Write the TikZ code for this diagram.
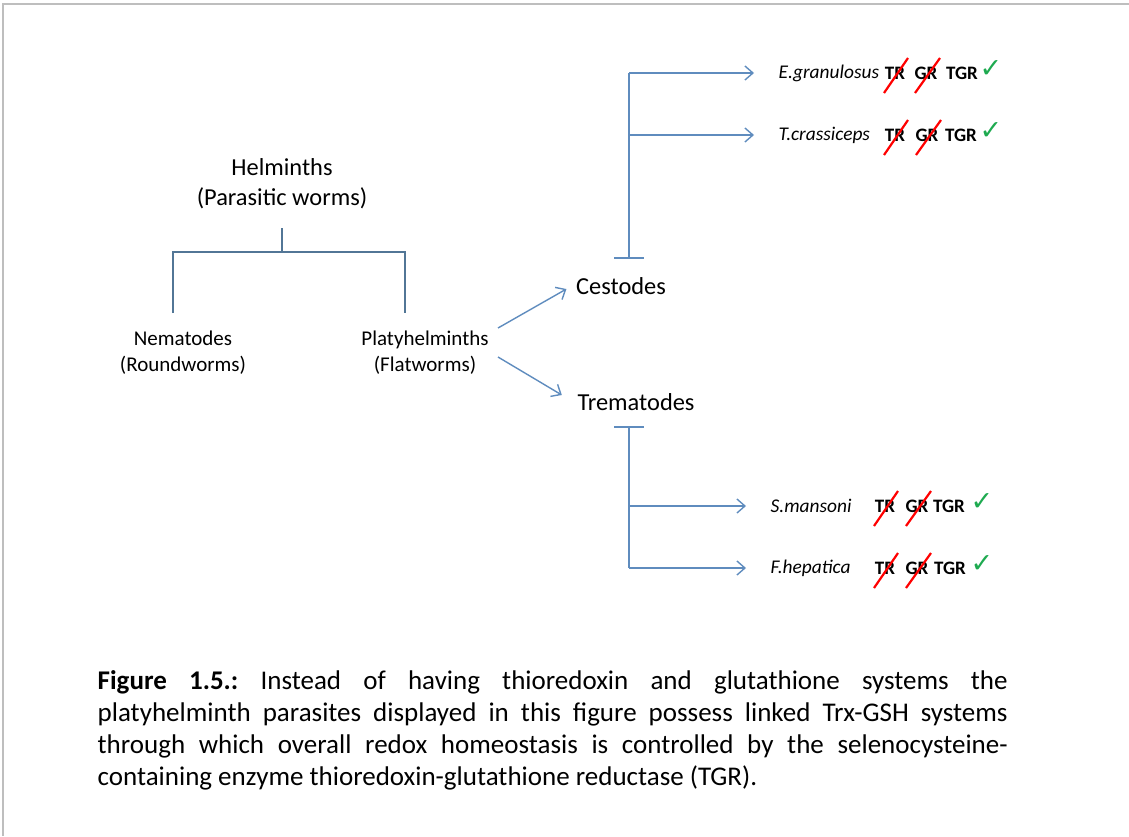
\documentclass[tikz,border=0pt]{standalone}
\usepackage{fontspec}
\setmainfont{Carlito}
\newfontfamily\symfont{DejaVu Sans}
\usetikzlibrary{calc,arrows.meta}
\definecolor{treeline}{RGB}{82,118,150}
\definecolor{arrowblue}{RGB}{95,140,190}
\definecolor{tickgreen}{RGB}{30,170,80}
\definecolor{framegray}{RGB}{190,190,190}
\tikzset{treelbl/.style={align=center,font=\fontsize{10.5}{13}\selectfont,inner sep=1pt},
  grouplbl/.style={font=\fontsize{12.2}{14}\selectfont,inner sep=1pt},
  specieslbl/.style={anchor=west,font=\fontsize{9.7}{12}\selectfont\itshape,inner sep=0pt},
  enzlbl/.style={font=\fontsize{9.5}{12}\selectfont\bfseries,inner sep=0pt},
  crossout/.style={red,line width=1.1pt},
  tick/.style={text=tickgreen,font=\fontsize{13.5}{14}\symfont,inner sep=0pt}}

\begin{document}
\frenchspacing
\begin{tikzpicture}[x=0.5pt,y=-0.5pt,line width=0.7pt,>={Straight Barb[length=4pt,width=7pt]}]
  \useasboundingbox (0,0) rectangle (1129,836);
  \draw[framegray,line width=1pt] (3,836) -- (3,4) -- (1129,4);

  % left part of the tree
  \node [grouplbl,align=center] (helm) at (282,184) {Helminths\\[1pt](Parasitic worms)};
  \node [treelbl] (nema) at (183,353) {Nematodes\hspace{5pt}\\(Roundworms)};
  \node [treelbl] (platy) at (425,353) {Platyhelminths\\(Flatworms)\hspace{9pt}};
  \coordinate (top) at (282,228);
  \coordinate (mid) at (282,252);
  \draw [treeline] (top) -- (mid);
  \draw [treeline] (173,313) |- (mid) -| (405,313);

  \node [grouplbl] (cest) at (621,286) {Cestodes};
  \node [grouplbl] (trem) at (636,402) {Trematodes};
  \coordinate (p1) at (498,328);
  \coordinate (p2) at (498,357);
  \draw [->,arrowblue] (p1) -- ([shift={(-7,3)}]cest.west);
  \draw [->,arrowblue] (p2) -- ([shift={(-13,-7)}]trem.west);

  % cestodes
  \coordinate (cb) at (629,258);
  \coordinate (ct) at (629,73);
  \draw [arrowblue] (614,258) -- (644,258);
  \draw [arrowblue] (cb) -- (ct);

  % trematodes
  \coordinate (tb) at (629,427);
  \coordinate (t2) at (629,568);
  \draw [arrowblue] (614,427) -- (644,427);
  \draw [arrowblue] (tb) -- (t2);

  % species with their enzymes
  \foreach \n/\x/\y/\name/\tr/\gr/\tgr/\ok in {
      eg/778/73/E.granulosus/895/926/962/991,
      tc/778/135/T.crassiceps/895/927/961/991,
      sm/770/506/S.mansoni/885/917/949/982,
      fh/770/568/F.hepatica/885/917/950/982} {
    \node [specieslbl] (\n) at (\x,\y) {\name};
    \draw [->,arrowblue] (629,\y) -- ([xshift=-12]\n.west);
    \node [enzlbl] (\n tr) at (\tr,\y) {TR};
    \node [enzlbl] (\n gr) at (\gr,\y) {GR};
    \node [enzlbl] (\n tgr) at (\tgr,\y) {TGR};
    \node [tick] (\n ok) at (\ok,\y-4) {✓};
    \draw [crossout] ($(\n tr)+(-11,20)$) -- ($(\n tr)+(13,-15)$);
    \draw [crossout] ($(\n gr)+(-11,20)$) -- ($(\n gr)+(14,-15)$);
  }

  % caption
  \node [anchor=north west,inner sep=0pt,text width=455pt,align=justify,
         font=\fontsize{13.5}{16}\selectfont] (cap) at (97,670)
    {\textbf{Figure 1.5.:} Instead of having thioredoxin and glutathione systems the\linebreak
     platyhelminth parasites displayed in this figure possess linked Trx-GSH systems\linebreak
     through which overall redox homeostasis is controlled by the selenocysteine-\linebreak
     containing enzyme thioredoxin-glutathione reductase (TGR).};
\end{tikzpicture}
\end{document}
